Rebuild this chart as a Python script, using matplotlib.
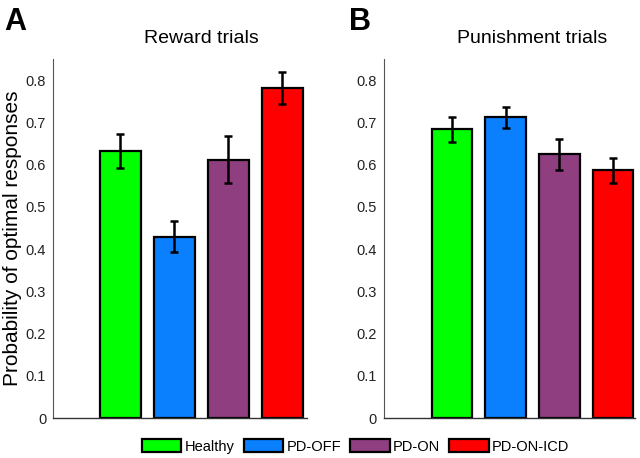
import matplotlib
matplotlib.use('Agg')
import matplotlib.pyplot as plt
from matplotlib.patches import Patch

plt.rcParams['font.family'] = ['Liberation Sans', 'DejaVu Sans']

GROUPS = ['Healthy', 'PD-OFF', 'PD-ON', 'PD-ON-ICD']
COLOURS = ['#00ff00', '#0a80ff', '#8f3e80', '#ff0000']

reward_mean = [0.632, 0.430, 0.612, 0.782]
reward_err = [0.041, 0.037, 0.055, 0.038]
punish_mean = [0.684, 0.712, 0.625, 0.587]
punish_err = [0.030, 0.025, 0.037, 0.030]

YTICKS = [0, 0.1, 0.2, 0.3, 0.4, 0.5, 0.6, 0.7, 0.8]
YTICK_LABELS = ['0', '0.1', '0.2', '0.3', '0.4', '0.5', '0.6', '0.7', '0.8']


def draw_panel(ax, means, errs, title, xlim):
    xs = range(1, len(means) + 1)
    ax.bar(xs, means, width=0.76, color=COLOURS, edgecolor='black', linewidth=1.6,
           yerr=errs, error_kw=dict(ecolor='black', elinewidth=1.8, capsize=3, capthick=1.8))
    ax.set_xlim(*xlim)
    ax.set_ylim(0, 0.85)
    ax.set_yticks(YTICKS)
    ax.set_yticklabels(YTICK_LABELS)
    ax.set_xticks([])
    ax.tick_params(axis='y', length=0, pad=5, labelsize=10.5, labelcolor='#222222')
    for side in ['top', 'right']:
        ax.spines[side].set_visible(False)
    ax.spines['left'].set_color('#555555')
    ax.spines['left'].set_linewidth(0.8)
    ax.spines['bottom'].set_color('#333333')
    ax.spines['bottom'].set_linewidth(1.0)
    ax.text(2.5, 1.058, title, transform=ax.get_xaxis_transform(),
            ha='center', va='center', fontsize=14)


fig = plt.figure(figsize=(6.4, 4.58), dpi=100)
ax1 = fig.add_axes([0.083, 0.087, 0.397, 0.784])
ax2 = fig.add_axes([0.600, 0.087, 0.392, 0.784])

draw_panel(ax1, reward_mean, reward_err, 'Reward trials', (-0.24, 4.46))
draw_panel(ax2, punish_mean, punish_err, 'Punishment trials', (-0.27, 4.41))

ax1.set_ylabel('Probability of optimal responses', fontsize=15)
ax1.yaxis.set_label_coords(-0.122, 0.5)

fig.text(0.006, 0.985, 'A', fontsize=22, fontweight='bold', va='top', ha='left')
fig.text(0.546, 0.985, 'B', fontsize=22, fontweight='bold', va='top', ha='left')

handles = [Patch(facecolor=c, edgecolor='black', linewidth=1.6, label=g)
           for g, c in zip(GROUPS, COLOURS)]
fig.legend(handles=handles, loc='center', bbox_to_anchor=(0.556, 0.025), ncol=4,
           frameon=False, fontsize=10.5, handlelength=2.7, handleheight=1.0,
           handletextpad=0.25, columnspacing=0.6, borderaxespad=0)

fig.savefig('out.png', dpi=100)
